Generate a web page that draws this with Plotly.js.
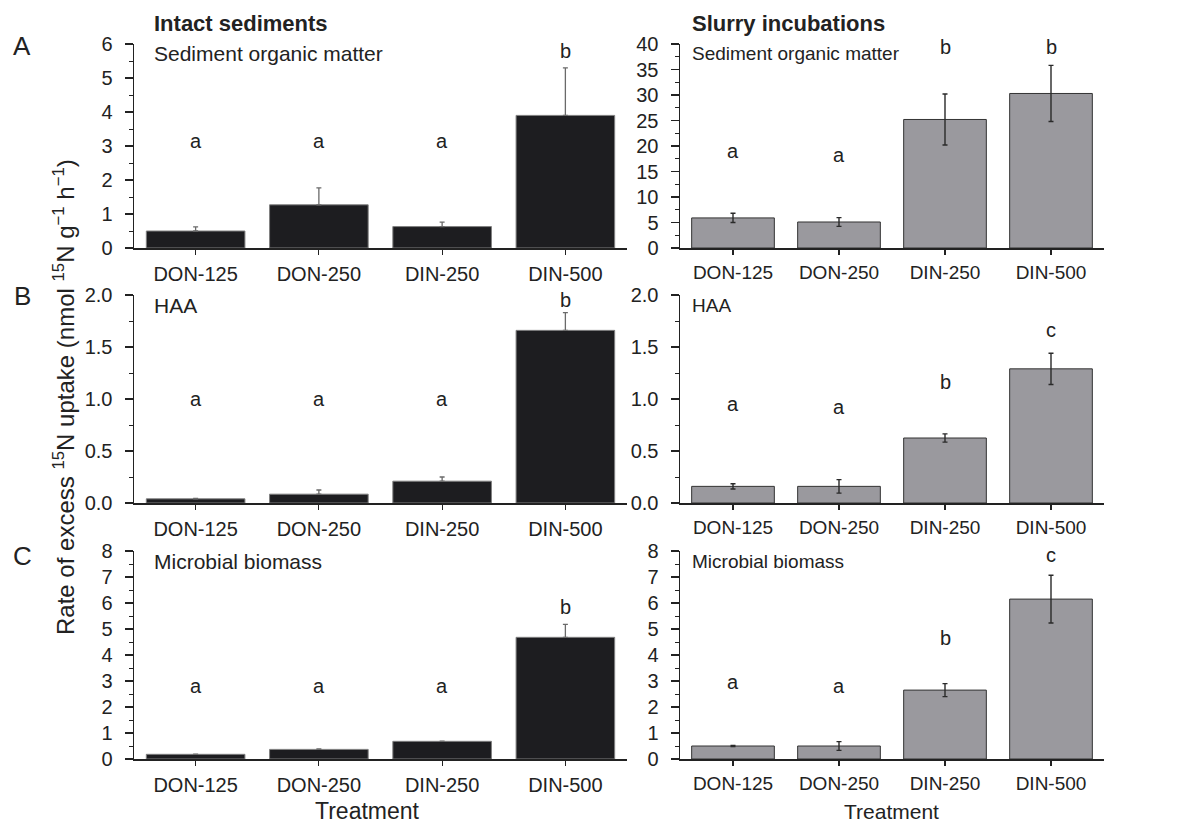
<!DOCTYPE html>
<html>
<head>
<meta charset="utf-8">
<script src="https://cdn.plot.ly/plotly-3.0.1.min.js"></script>
<style>
  html, body { margin: 0; padding: 0; background: #fff; }
  #chart { width: 1195px; height: 824px; }
</style>
</head>
<body>
<div id="chart"></div>
<script>
// ---------------- DATA ----------------
const categories = ['DON-125', 'DON-250', 'DIN-250', 'DIN-500'];

// Intact sediments
const intactSOM = [0.50, 1.27, 0.63, 3.90];
const intactSOMErr = [0.12, 0.50, 0.13, 1.40];
const intactHAA = [0.04, 0.085, 0.21, 1.66];
const intactHAAErr = [0.005, 0.04, 0.04, 0.17];
const intactMB = [0.18, 0.37, 0.68, 4.68];
const intactMBErr = [0.01, 0.02, 0.01, 0.50];

// Slurry incubations
const slurrySOM = [5.9, 5.1, 25.2, 30.3];
const slurrySOMErr = [0.9, 0.85, 5.0, 5.5];
const slurryHAA = [0.16, 0.16, 0.625, 1.29];
const slurryHAAErr = [0.025, 0.065, 0.04, 0.15];
const slurryMB = [0.50, 0.50, 2.65, 6.15];
const slurryMBErr = [0.02, 0.17, 0.25, 0.92];

// Significance letters
const intactSOMLetters = ['a', 'a', 'a', 'b'];
const intactHAALetters = ['a', 'a', 'a', 'b'];
const intactMBLetters = ['a', 'a', 'a', 'b'];
const slurrySOMLetters = ['a', 'a', 'b', 'b'];
const slurryHAALetters = ['a', 'a', 'b', 'c'];
const slurryMBLetters = ['a', 'a', 'b', 'c'];

// Panel texts
const columnTitles = ['Intact sediments', 'Slurry incubations'];
const panelNames = ['Sediment organic matter', 'HAA', 'Microbial biomass'];
const rowLabels = ['A', 'B', 'C'];
const xTitle = 'Treatment';
const yTitle = 'Rate of excess <sup>15</sup>N uptake (nmol <sup>15</sup>N g<sup>\u22121</sup> h<sup>\u22121</sup>)';

// ---------------- LAYOUT / STYLE ----------------
const W = 1195, H = 824;
const FONT = 'Liberation Sans, Arial, Helvetica, sans-serif';
const INK = '#222222';
const px = v => v / W;
const py = v => 1 - v / H;

const colX = [[134, 627], [680, 1104]];
const rowY = [[44, 248], [295, 503], [551, 759]];

const panels = [
  {row: 0, col: 0, y: intactSOM, err: intactSOMErr, letters: intactSOMLetters, max: 6, dtick: 1, fmt: 'd', letterY: [3.15, 3.15, 3.15, 5.8]},
  {row: 0, col: 1, y: slurrySOM, err: slurrySOMErr, letters: slurrySOMLetters, max: 40, dtick: 5, fmt: 'd', letterY: [19.1, 18.3, 39.5, 39.5]},
  {row: 1, col: 0, y: intactHAA, err: intactHAAErr, letters: intactHAALetters, max: 2, dtick: 0.5, fmt: '.1f', letterY: [1.0, 1.0, 1.0, 1.95]},
  {row: 1, col: 1, y: slurryHAA, err: slurryHAAErr, letters: slurryHAALetters, max: 2, dtick: 0.5, fmt: '.1f', letterY: [0.95, 0.92, 1.16, 1.66]},
  {row: 2, col: 0, y: intactMB, err: intactMBErr, letters: intactMBLetters, max: 8, dtick: 1, fmt: 'd', letterY: [2.8, 2.8, 2.8, 5.85]},
  {row: 2, col: 1, y: slurryMB, err: slurryMBErr, letters: slurryMBLetters, max: 8, dtick: 1, fmt: 'd', letterY: [2.95, 2.8, 4.65, 7.85]}
];

const traces = [];
const layout = {
  width: W, height: H,
  margin: {l: 0, r: 0, t: 0, b: 0},
  paper_bgcolor: '#ffffff',
  plot_bgcolor: '#ffffff',
  showlegend: false,
  font: {family: FONT, color: INK, size: 20},
  annotations: []
};

panels.forEach((p, i) => {
  const n = i + 1;
  const xa = n === 1 ? 'x' : 'x' + n;
  const ya = n === 1 ? 'y' : 'y' + n;
  const left = p.col === 0;

  traces.push({
    type: 'bar',
    x: categories,
    y: p.y,
    xaxis: xa, yaxis: ya,
    width: left ? 0.8 : 0.78,
    marker: {
      color: left ? '#1d1d20' : '#9a999e',
      line: {color: left ? '#808080' : '#333333', width: 1}
    },
    error_y: left ? {
      type: 'data', symmetric: false, array: p.err, arrayminus: p.err.map(() => 0),
      color: '#6a6a6a', thickness: 1.3, width: 2.5
    } : {
      type: 'data', array: p.err, color: '#2a2a2a', thickness: 1.4, width: 2.5
    },
    hoverinfo: 'skip'
  });

  layout['xaxis' + (n === 1 ? '' : n)] = {
    domain: [px(colX[p.col][0]), px(colX[p.col][1])],
    anchor: ya,
    type: 'category',
    range: [-0.5, 3.5],
    showline: true, linecolor: INK, linewidth: 1.5,
    ticks: 'outside', ticklen: 5, tickwidth: 1.2, tickcolor: INK,
    tickfont: {family: FONT, size: left ? 20 : 19, color: INK},
    ticklabelstandoff: 2,
    showgrid: false, zeroline: false, fixedrange: true
  };
  layout['yaxis' + (n === 1 ? '' : n)] = {
    domain: [py(rowY[p.row][1]), py(rowY[p.row][0])],
    anchor: xa,
    range: [0, p.max],
    dtick: p.dtick, tick0: 0, tickformat: p.fmt,
    showline: true, linecolor: INK, linewidth: 1.5,
    ticks: 'outside', ticklen: 8, tickwidth: 1.2, tickcolor: INK,
    minor: {ticks: 'outside', ticklen: 4, tickwidth: 1, tickcolor: INK, dtick: p.dtick / 2, tick0: 0, showgrid: false},
    tickfont: {family: FONT, size: 20, color: INK},
    ticklabelstandoff: 8,
    showgrid: false, zeroline: false, fixedrange: true
  };

  // significance letters
  p.letters.forEach((L, k) => {
    layout.annotations.push({
      xref: xa, yref: ya, x: categories[k], y: p.letterY[k],
      text: L, showarrow: false, xanchor: 'center', yanchor: 'middle',
      font: {family: FONT, size: 20, color: INK}
    });
  });
});

// panel sub-titles
const subY = [54, 306, 561];
panelNames.forEach((t, r) => {
  [[152, 21], [690, 19]].forEach(([xp, fs]) => {
    layout.annotations.push({
      xref: 'paper', yref: 'paper', x: px(xp), y: py(subY[r]),
      text: t, showarrow: false, xanchor: 'left', yanchor: 'middle',
      font: {family: FONT, size: fs, color: INK}
    });
  });
});

// column titles
[152, 690].forEach((xp, c) => {
  layout.annotations.push({
    xref: 'paper', yref: 'paper', x: px(xp), y: py(23),
    text: '<b>' + columnTitles[c] + '</b>', showarrow: false, xanchor: 'left', yanchor: 'middle',
    font: {family: FONT, size: 22, color: INK}
  });
});

// row labels
const rowLabelY = [46, 296, 556];
rowLabels.forEach((t, r) => {
  layout.annotations.push({
    xref: 'paper', yref: 'paper', x: px(22), y: py(rowLabelY[r]),
    text: t, showarrow: false, xanchor: 'center', yanchor: 'middle',
    font: {family: FONT, size: 26, color: INK}
  });
});

// x titles
[[367, 23], [891, 21]].forEach(([xp, fs]) => {
  layout.annotations.push({
    xref: 'paper', yref: 'paper', x: px(xp), y: py(811),
    text: xTitle, showarrow: false, xanchor: 'center', yanchor: 'middle',
    font: {family: FONT, size: fs, color: INK}
  });
});

// y title
layout.annotations.push({
  xref: 'paper', yref: 'paper', x: px(64), y: py(397),
  text: yTitle, showarrow: false, textangle: -90, xanchor: 'center', yanchor: 'middle',
  font: {family: FONT, size: 24, color: INK}
});

Plotly.newPlot('chart', traces, layout, {staticPlot: true, displayModeBar: false});
</script>
</body>
</html>
